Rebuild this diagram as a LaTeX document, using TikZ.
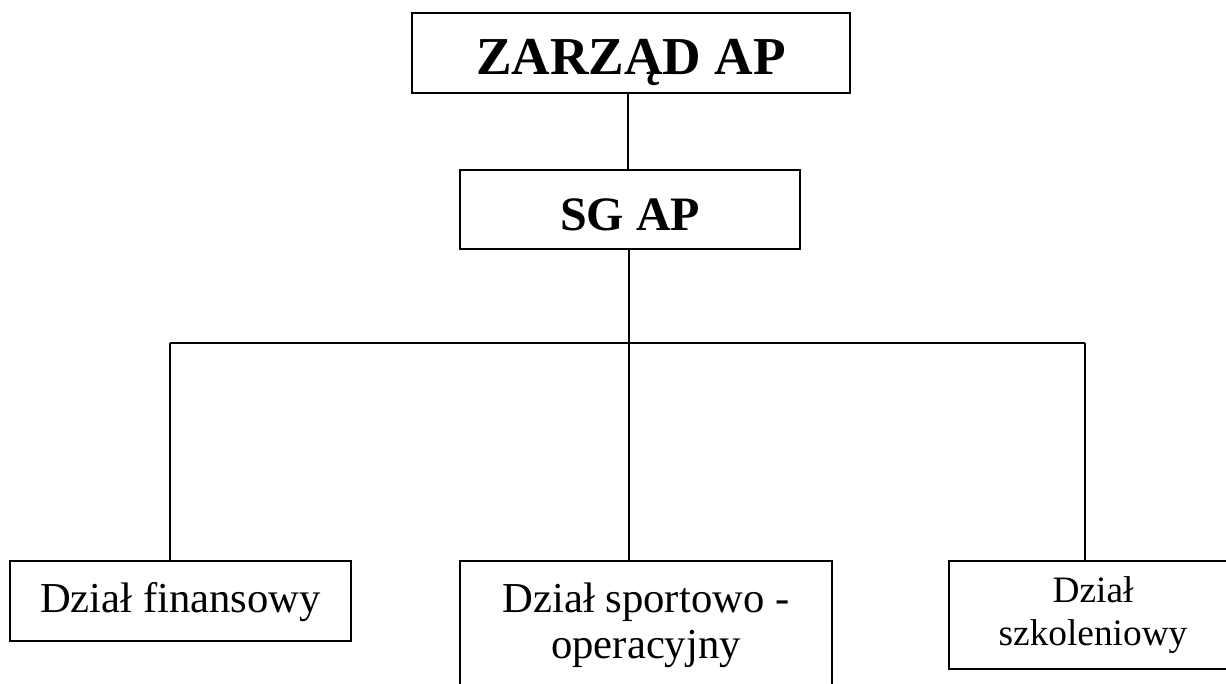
\documentclass[tikz,border=0pt]{standalone}
\usepackage{fontspec}
\setmainfont{Liberation Serif}
\usepackage{tikz}

\tikzset{
  box/.style={draw, line width=1.3pt, inner sep=0pt, align=center},
  link/.style={line width=1.3pt}
}

\begin{document}
\begin{tikzpicture}[x=0.75pt,y=-0.75pt]
\useasboundingbox (0,0) rectangle (1226,684);
\clip (0,0) rectangle (1226,684);
% top of the chart
\node[box, minimum width=328.5pt, minimum height=60pt, text height=33pt, text depth=0pt, font=\fontsize{40}{44}\selectfont\bfseries] (zarzad) at (631,53) {ZARZĄD AP};
\node[box, minimum width=255pt, minimum height=59.25pt, text height=30.75pt, text depth=0pt, font=\fontsize{36}{42}\selectfont\bfseries] (sg) at (630,209.5) {SG AP};
% departments
\node[box, minimum width=255.75pt, minimum height=60pt, text height=16.5pt, text depth=0pt, font=\fontsize{32}{36}\selectfont] (fin) at (180.5,601) {Dział finansowy};
\node[box, minimum width=279pt, minimum height=96pt, font=\fontsize{32}{34.5}\selectfont] (sport) at (646,625) {Dział sportowo -\\operacyjny};
\node[box, minimum width=216pt, minimum height=81pt, font=\fontsize{28}{32}\selectfont] (szkol) at (1093,615) {Dział\\szkoleniowy};
% connectors
\coordinate (busL) at (170,343);
\coordinate (busM) at (629,343);
\coordinate (busR) at (1085,343);
\draw[link] (zarzad.south -| 628,0) -- (sg.north -| 628,0);
\draw[link] (sg.south -| busM) -- (busM);
\draw[link] (busL) -- (busR);
\draw[link] (busL) -- (busL |- fin.north);
\draw[link] (busM) -- (busM |- sport.north);
\draw[link] (busR) -- (busR |- szkol.north);
\end{tikzpicture}
\end{document}
